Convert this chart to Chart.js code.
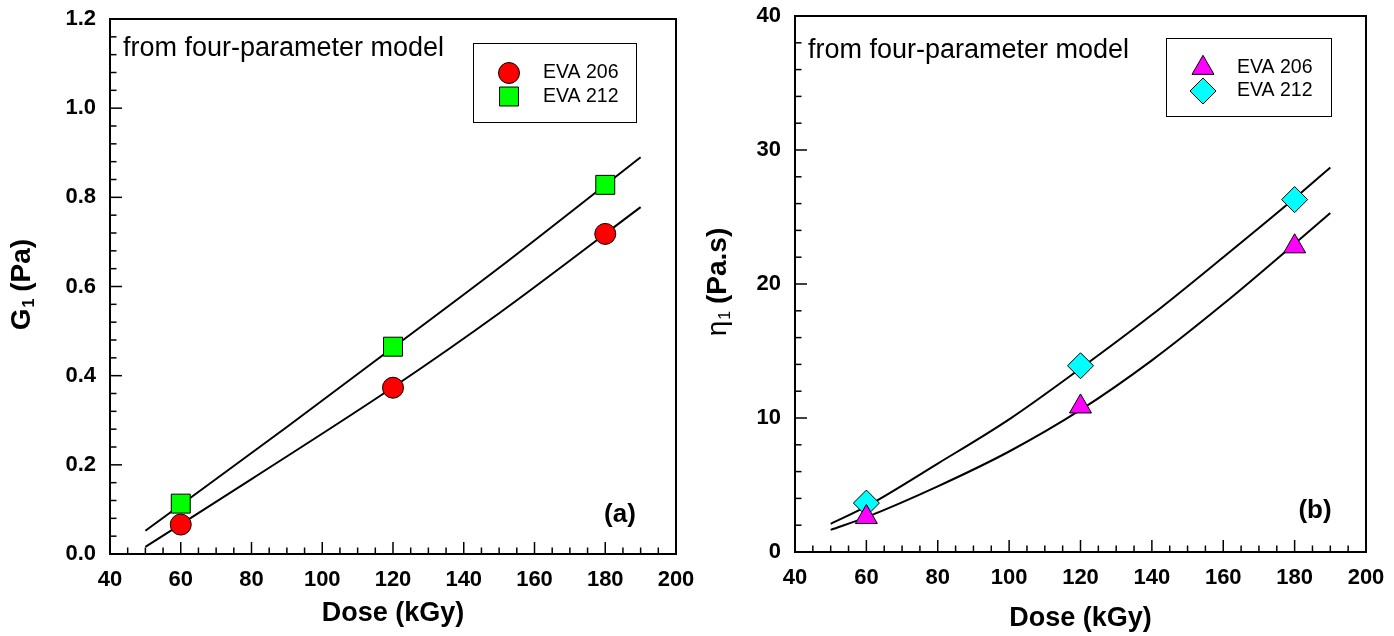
<!DOCTYPE html>
<html>
<head>
<meta charset="utf-8">
<script src="https://cdn.jsdelivr.net/npm/chart.js@4.4.0/dist/chart.umd.min.js"></script>
<style>
  body { margin: 0; background: #fff; }
  canvas { position: absolute; top: 0; }
  #chartA { left: 0; }
  #chartB { left: 697px; }
</style>
</head>
<body>
<canvas id="chartA" width="697" height="636"></canvas>
<canvas id="chartB" width="697" height="636"></canvas>
<script>
// Doses mesurées (kGy)
const doses = [60, 120, 180];

// Panneau (a) : G1 (Pa)
const g1Eva206 = [0.066, 0.373, 0.718];
const g1Eva212 = [0.113, 0.465, 0.828];
// courbes d'ajustement
const fitDoseA = [50, 80, 120, 150, 190];
const fitG1Eva206 = [0.016, 0.168, 0.374, 0.540, 0.778];
const fitDoseA2 = [50, 90, 120, 150, 190];
const fitG1Eva212 = [0.052, 0.285, 0.463, 0.642, 0.890];

// Panneau (b) : eta1 (Pa.s)
const eta1Eva206 = [2.6, 10.85, 22.8];
const eta1Eva212 = [3.65, 13.9, 26.3];
const fitDoseB = [50, 60, 80, 100, 120, 140, 160, 180, 190];
const fitEta1Eva206 = [1.65, 2.6, 4.9, 7.5, 10.6, 14.3, 18.5, 23.0, 25.3];
const fitEta1Eva212 = [2.1, 3.4, 6.6, 9.9, 13.7, 17.7, 22.0, 26.4, 28.7];

// Axes
const xTicks = [40, 200, 20, 5];      // min, max, major, minor
const yTicksA = [0, 1.2, 0.2, 0.04];
const yTicksB = [0, 40, 10, 2];

const FONT = "'Liberation Sans', Arial, sans-serif";
Chart.defaults.color = '#000';
Chart.defaults.font.family = FONT;

const toPts = (xs, ys) => xs.map((x, i) => ({ x: x, y: ys[i] }));

// Cadre, graduations internes, titres, légende
const decorPlugin = {
  id: 'decor',
  afterDraw(chart, args, opts) {
    const ctx = chart.ctx;
    const a = chart.chartArea;
    const xs = chart.scales.x, ys = chart.scales.y;
    ctx.save();
    ctx.strokeStyle = '#000';
    // graduations
    ctx.lineWidth = 1.5;
    const nx = Math.round((xTicks[1] - xTicks[0]) / xTicks[3]);
    for (let i = 0; i <= nx; i++) {
      const v = xTicks[0] + i * xTicks[3];
      const px = xs.getPixelForValue(v);
      const len = (i % Math.round(xTicks[2] / xTicks[3]) === 0) ? 12 : 6.5;
      ctx.beginPath(); ctx.moveTo(px, a.bottom); ctx.lineTo(px, a.bottom - len); ctx.stroke();
    }
    const yt = opts.yTicks;
    const ny = Math.round((yt[1] - yt[0]) / yt[3]);
    for (let i = 0; i <= ny; i++) {
      const v = yt[0] + i * yt[3];
      const py = ys.getPixelForValue(v);
      const len = (i % Math.round(yt[2] / yt[3]) === 0) ? 12 : 6.5;
      ctx.beginPath(); ctx.moveTo(a.left, py); ctx.lineTo(a.left + len, py); ctx.stroke();
    }
    // cadre
    ctx.lineWidth = 2;
    ctx.strokeRect(a.left, a.top, a.right - a.left, a.bottom - a.top);

    ctx.fillStyle = '#000';
    // titre axe X
    ctx.font = 'bold 27px ' + FONT;
    ctx.textAlign = 'center';
    ctx.textBaseline = 'middle';
    ctx.fillText('Dose (kGy)', (a.left + a.right) / 2, opts.xTitleY);

    // titre axe Y avec indice
    ctx.save();
    ctx.translate(opts.yTitleX, (a.top + a.bottom) / 2 - 2);
    ctx.rotate(-Math.PI / 2);
    ctx.textAlign = 'left';
    const mainFont = opts.yMainFont + FONT;
    const subFont = opts.ySubFont + FONT;
    const restFont = 'bold 28px ' + FONT;
    ctx.font = mainFont; const w1 = ctx.measureText(opts.yMain).width;
    ctx.font = subFont; const w2 = ctx.measureText('1').width;
    ctx.font = restFont; const w3 = ctx.measureText(opts.yRest).width;
    let x0 = -(w1 + w2 + w3) / 2;
    ctx.font = mainFont; ctx.fillText(opts.yMain, x0, 0);
    ctx.font = subFont; ctx.fillText('1', x0 + w1 + 1, 8);
    ctx.font = restFont; ctx.fillText(opts.yRest, x0 + w1 + w2, 0);
    ctx.restore();

    // note
    ctx.font = '27px ' + FONT;
    ctx.textAlign = 'left';
    ctx.textBaseline = 'alphabetic';
    ctx.fillText('from four-parameter model', a.left + 13, opts.noteY);

    // étiquette (a)/(b)
    ctx.font = 'bold 26px ' + FONT;
    ctx.textAlign = 'center';
    ctx.textBaseline = 'middle';
    ctx.fillText(opts.tag, opts.tagX, opts.tagY);

    // légende
    const lg = opts.legend;
    ctx.lineWidth = 1;
    ctx.strokeRect(lg.box[0] + 0.5, lg.box[1] + 0.5, lg.box[2], lg.box[3]);
    chart.data.datasets.forEach((ds, i) => {
      if (!ds.inLegend) return;
      const ly = lg.rows[i];
      ctx.fillStyle = ds.backgroundColor;
      ctx.strokeStyle = '#000';
      ctx.lineWidth = 1;
      Chart.helpers.drawPoint(ctx, { pointStyle: ds.pointStyle, radius: ds.pointRadius, rotation: 0, borderWidth: 1 }, lg.markX, ly);
      ctx.fillStyle = '#000';
      ctx.font = '19.5px ' + FONT;
      ctx.textAlign = 'left';
      ctx.textBaseline = 'middle';
      ctx.fillText(ds.label, lg.textX, ly);
    });
    ctx.restore();
  }
};

function markerSet(label, data, color, style, radius) {
  return {
    type: 'scatter', label: label, data: data, inLegend: true,
    backgroundColor: color, borderColor: '#000', borderWidth: 1,
    pointStyle: style, pointRadius: radius, pointHoverRadius: radius, order: 0
  };
}
function fitSet(data) {
  return {
    type: 'line', data: data, borderColor: '#000', borderWidth: 2,
    pointRadius: 0, fill: false, tension: 0.4, cubicInterpolationMode: 'monotone', order: 1
  };
}

// pas de marge automatique pour les étiquettes qui débordent
function noPad(s) {
  s.paddingLeft = 0; s.paddingRight = 0; s.paddingTop = 0; s.paddingBottom = 0;
}

function makeChart(id, cfg) {
  return new Chart(document.getElementById(id), {
    type: 'scatter',
    data: { datasets: cfg.datasets },
    options: {
      responsive: false,
      animation: false,
      events: [],
      layout: { padding: { top: cfg.top, right: cfg.right, left: 0, bottom: 0 } },
      plugins: { legend: { display: false }, tooltip: { enabled: false }, decor: cfg.decor },
      scales: {
        x: {
          type: 'linear', min: xTicks[0], max: xTicks[1],
          grid: { display: false, drawTicks: false }, border: { display: false },
          ticks: { stepSize: xTicks[2], padding: 13, maxRotation: 0, font: { size: 22, weight: 'bold' } },
          afterFit: s => { s.height = cfg.xHeight; noPad(s); }
        },
        y: {
          type: 'linear', min: cfg.yTicks[0], max: cfg.yTicks[1],
          grid: { display: false, drawTicks: false }, border: { display: false },
          ticks: { stepSize: cfg.yTicks[2], padding: 14, font: { size: 22, weight: 'bold' }, callback: cfg.yFmt },
          afterFit: s => { s.width = cfg.yWidth; noPad(s); }
        }
      }
    },
    plugins: [decorPlugin]
  });
}

makeChart('chartA', {
  top: 19, right: 21, xHeight: 82, yWidth: 110, yTicks: yTicksA,
  yFmt: v => v.toFixed(1),
  datasets: [
    markerSet('EVA 206', toPts(doses, g1Eva206), '#ff0000', 'circle', 10.5),
    markerSet('EVA 212', toPts(doses, g1Eva212), '#00ff00', 'rect', 13.4),
    fitSet(toPts(fitDoseA, fitG1Eva206)),
    fitSet(toPts(fitDoseA2, fitG1Eva212))
  ],
  decor: {
    yTicks: yTicksA, xTitleY: 614, yTitleX: 22,
    yMain: 'G', yMainFont: 'bold 28px ', ySubFont: 'bold 16px ', yRest: ' (Pa)',
    noteY: 56, tag: '(a)', tagX: 620, tagY: 515,
    legend: { box: [473, 43, 163, 79], rows: [73, 96.5], markX: 509, textX: 543 }
  }
});

makeChart('chartB', {
  top: 16, right: 28, xHeight: 84, yWidth: 98, yTicks: yTicksB,
  yFmt: v => String(v),
  datasets: [
    markerSet('EVA 206', toPts(doses, eta1Eva206), '#ff00ff', 'triangle', 12.7),
    markerSet('EVA 212', toPts(doses, eta1Eva212), '#00ffff', 'rectRot', 13),
    fitSet(toPts(fitDoseB, fitEta1Eva206)),
    fitSet(toPts(fitDoseB, fitEta1Eva212))
  ],
  decor: {
    yTicks: yTicksB, xTitleY: 619, yTitleX: 21,
    yMain: 'η', yMainFont: '28px ', ySubFont: '16px ', yRest: ' (Pa.s)',
    noteY: 58, tag: '(b)', tagX: 618, tagY: 511,
    legend: { box: [469, 38, 165, 78], rows: [68, 91], markX: 506, textX: 540 }
  }
});
</script>
</body>
</html>
